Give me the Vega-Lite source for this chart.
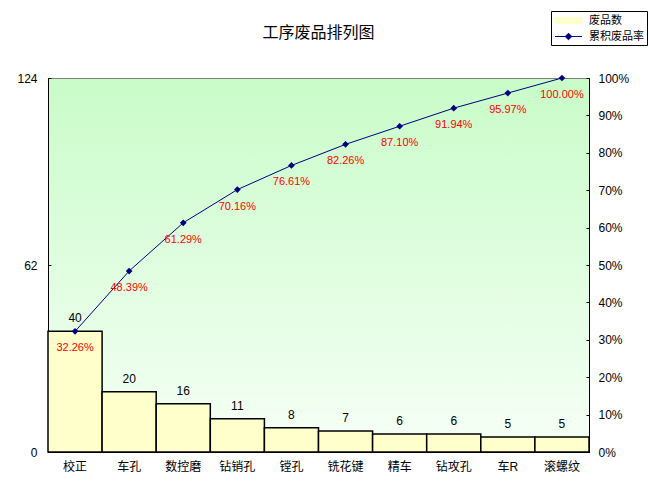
{
  "$schema": "https://vega.github.io/schema/vega-lite/v6.json",
  "description": "工序废品排列图",
  "autosize": "none",
  "width": 541,
  "height": 374,
  "padding": {"left": 48, "top": 78, "right": 60, "bottom": 43},
  "background": "white",
  "title": {
    "text": "工序废品排列图",
    "font": "Noto Sans CJK SC",
    "fontSize": 16,
    "fontWeight": "normal",
    "color": "black",
    "anchor": "middle",
    "offset": -30
  },
  "config": {
    "font": "Liberation Sans, Noto Sans CJK SC",
    "view": {
      "stroke": "#808080",
      "fill": {
        "gradient": "linear",
        "x1": 0, "y1": 0, "x2": 0, "y2": 1,
        "stops": [
          {"offset": 0, "color": "#c9fcc9"},
          {"offset": 1, "color": "#f6fff6"}
        ]
      }
    },
    "axis": {
      "labelFont": "Liberation Sans, Noto Sans CJK SC",
      "labelFontSize": 12,
      "labelColor": "black",
      "domainColor": "black",
      "tickColor": "black",
      "grid": false,
      "title": null
    },
    "legend": {
      "orient": "none",
      "legendX": 503,
      "legendY": -67,
      "title": null,
      "fillColor": "white",
      "strokeColor": "black",
      "padding": 3,
      "rowPadding": 4,
      "labelFont": "Noto Sans CJK SC",
      "labelFontSize": 11,
      "labelColor": "black",
      "symbolSize": 144,
      "symbolOffset": 8,
      "labelOffset": 14,
      "symbolStrokeWidth": 1
    }
  },
  "data": {
    "values": [
      {"cat": "校正", "n": 40, "cum": 0.3226},
      {"cat": "车孔", "n": 20, "cum": 0.4839},
      {"cat": "数控磨", "n": 16, "cum": 0.6129},
      {"cat": "钻销孔", "n": 11, "cum": 0.7016},
      {"cat": "镗孔", "n": 8, "cum": 0.7661},
      {"cat": "铣花键", "n": 7, "cum": 0.8226},
      {"cat": "精车", "n": 6, "cum": 0.871},
      {"cat": "钻攻孔", "n": 6, "cum": 0.9194},
      {"cat": "车R", "n": 5, "cum": 0.9597},
      {"cat": "滚螺纹", "n": 5, "cum": 1.0}
    ]
  },
  "encoding": {
    "x": {
      "field": "cat",
      "type": "nominal",
      "sort": null,
      "scale": {"paddingInner": 0, "paddingOuter": 0},
      "axis": {"labelAngle": 0, "ticks": false, "labelPadding": 9, "title": null}
    }
  },
  "layer": [
    {
      "encoding": {
        "y": {
          "field": "n",
          "type": "quantitative",
          "scale": {"domain": [0, 124], "nice": false},
          "axis": {"orient": "left", "values": [0, 62, 124], "tickSize": -3, "labelPadding": 14, "title": null}
        }
      },
      "layer": [
        {
          "mark": {"type": "bar", "stroke": "black", "strokeWidth": 1.5},
          "encoding": {
            "color": {
              "datum": "废品数",
              "type": "nominal",
              "scale": {"domain": ["废品数", "累积废品率"], "range": ["#ffffcc", "#000080"]},
              "legend": {
                "encode": {
                  "symbols": {
                    "update": {
                      "shape": {"signal": "datum.value === '废品数' ? 'M-2.25,-0.5H2.25V0.5H-2.25Z' : 'M-2.25,0H2.25M0,-0.55L0.55,0L0,0.55L-0.55,0Z'"},
                      "stroke": {"value": "#000000"},
                      "strokeWidth": {"value": 1},
                      "strokeOpacity": {"value": 1}
                    }
                  }
                }
              }
            }
          }
        },
        {
          "mark": {"type": "text", "baseline": "bottom", "dy": -6, "fontSize": 12, "color": "black"},
          "encoding": {
            "y": {"field": "n", "type": "quantitative"},
            "text": {"field": "n", "type": "quantitative"}
          }
        }
      ]
    },
    {
      "encoding": {
        "y": {
          "field": "cum",
          "type": "quantitative",
          "scale": {"domain": [0, 1], "nice": false},
          "axis": {
            "orient": "right",
            "values": [0, 0.1, 0.2, 0.3, 0.4, 0.5, 0.6, 0.7, 0.8, 0.9, 1],
            "format": ".0%",
            "tickSize": -3,
            "labelPadding": 12,
            "title": null
          }
        }
      },
      "layer": [
        {
          "mark": {
            "type": "line",
            "strokeWidth": 1,
            "point": {"shape": "diamond", "filled": true, "size": 45, "color": "#000080"}
          },
          "encoding": {
            "color": {
              "datum": "累积废品率",
              "type": "nominal",
              "legend": {
                "encode": {
                  "symbols": {
                    "update": {
                      "shape": {"signal": "datum.value === '废品数' ? 'M-2.25,-0.5H2.25V0.5H-2.25Z' : 'M-2.25,0H2.25M0,-0.55L0.55,0L0,0.55L-0.55,0Z'"},
                      "stroke": {"value": "#000000"},
                      "strokeWidth": {"value": 1},
                      "strokeOpacity": {"value": 1}
                    }
                  }
                }
              }
            }
          }
        },
        {
          "mark": {"type": "text", "baseline": "middle", "dy": 17, "fontSize": 11, "color": "#ff0000"},
          "encoding": {
            "text": {"field": "cum", "type": "quantitative", "format": ".2%"}
          }
        }
      ]
    }
  ],
  "resolve": {"scale": {"y": "independent"}}
}
